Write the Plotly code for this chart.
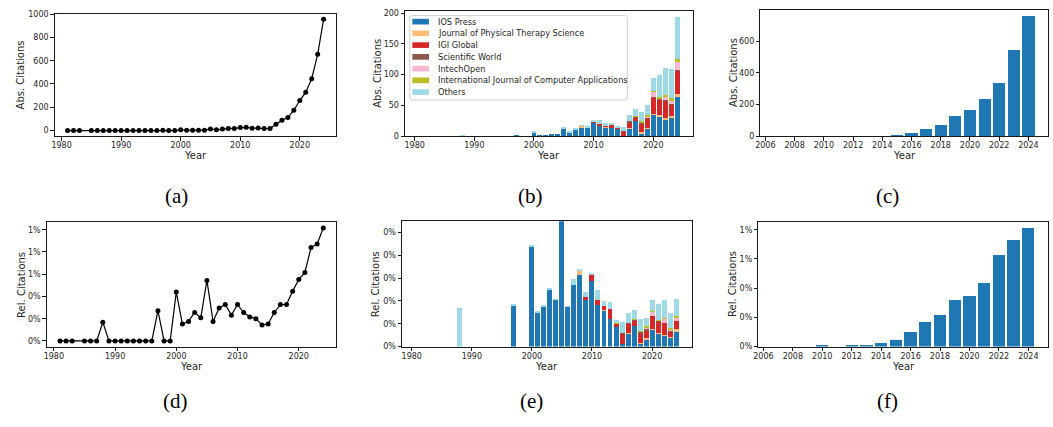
import plotly.graph_objects as go

W, H = 1053, 427

# ---------------- data ----------------
years = [1981, 1982, 1983] + list(range(1985, 2025))
abs_citations = [0, 0, 0, 0, 0, 0, 1, 0, 0, 0, 0, 0, 0, 0, 0, 2, 0, 0,
                 7, 3, 3, 4, 4, 14, 7, 13, 18, 17, 26, 28, 21, 22, 18, 17,
                 55, 89, 112, 175, 258, 330, 445, 655, 956]
rel_citations = [0, 0, 0, 0, 0, 0, 0.21, 0, 0, 0, 0, 0, 0, 0, 0, 0.34, 0, 0,
                 0.55, 0.19, 0.22, 0.32, 0.26, 0.68, 0.22, 0.37, 0.41, 0.29, 0.41,
                 0.32, 0.27, 0.25, 0.18, 0.19, 0.32, 0.41, 0.41, 0.56, 0.69, 0.77,
                 1.05, 1.09, 1.27]

pub_years = [1988, 1997] + list(range(2000, 2025))
publishers = ["IOS Press", "Journal of Physical Therapy Science", "IGI Global",
              "Scientific World", "IntechOpen",
              "International Journal of Computer Applications", "Others"]
pub_colors = ["#1f77b4", "#ffbb78", "#d62728", "#8c564b", "#f7b6d2", "#bcbd22", "#9edae5"]

ios_abs = [0, 1, 6, 2, 2, 3, 3, 13, 6, 11, 15, 14, 22, 18, 15, 14, 12, 1, 13, 25, 5, 12, 35, 32, 28, 31, 63]
jpts_abs = [0, 0, 0, 0, 0, 0, 0, 0, 0, 0, 2, 0, 0, 0, 1, 0, 0, 0, 1, 0, 1, 2, 1, 2, 2, 2, 6]
igi_abs = [0, 0, 0, 0, 0, 0, 0, 0, 0, 0, 0, 1, 2, 2, 2, 5, 2, 7, 9, 6, 15, 15, 27, 26, 28, 17, 38]
sw_abs = [0, 0, 0, 0, 0, 0, 0, 0, 0, 0, 0, 0, 0, 0, 0, 0, 0, 1, 1, 1, 2, 2, 1, 1, 1, 4, 1]
intech_abs = [0, 0, 0, 0, 0, 0, 0, 0, 0, 0, 0, 0, 0, 0, 0, 0, 0, 0, 0, 0, 0, 1, 8, 1, 4, 3, 12]
ijca_abs = [0, 0, 0, 0, 0, 0, 0, 0, 0, 0, 0, 0, 0, 0, 0, 0, 1, 0, 0, 1, 1, 3, 2, 2, 4, 5, 6]
others_abs = [1, 0, 1, 0, 0, 0, 0, 1, 1, 2, 1, 2, 1, 7, 3, 3, 2, 6, 11, 11, 16, 15, 20, 35, 43, 47, 68]

ios_rel = [0, 0.177, 0.439, 0.150, 0.173, 0.250, 0.203, 0.59, 0.173, 0.271, 0.314, 0.203,
           0.289, 0.181, 0.156, 0.121, 0.087, 0.010, 0.057, 0.091, 0.014, 0.027, 0.074,
           0.057, 0.049, 0.040, 0.066]
jpts_rel = [0, 0, 0, 0, 0, 0, 0, 0, 0, 0, 0.017, 0, 0, 0, 0.004, 0, 0, 0, 0.004, 0, 0.004,
            0.009, 0.002, 0.003, 0.004, 0.004, 0.009]
igi_rel = [0, 0, 0, 0, 0, 0, 0, 0, 0, 0, 0, 0.013, 0.026, 0.022, 0.017, 0.043, 0.013, 0.047,
           0.039, 0.022, 0.039, 0.034, 0.058, 0.049, 0.049, 0.021, 0.038]
sw_rel = [0, 0, 0, 0, 0, 0, 0, 0, 0, 0, 0, 0, 0, 0, 0, 0, 0, 0.004, 0.003, 0.004, 0.009,
          0.009, 0.002, 0.002, 0.002, 0.004, 0.001]
intech_rel = [0, 0, 0, 0, 0, 0, 0, 0, 0, 0, 0, 0, 0, 0, 0, 0, 0, 0, 0, 0, 0, 0.004, 0.015,
              0.003, 0.017, 0.004, 0.012]
ijca_rel = [0, 0, 0, 0, 0, 0, 0, 0, 0, 0, 0, 0, 0, 0, 0, 0, 0.005, 0, 0, 0.004, 0.004,
            0.009, 0.004, 0.003, 0.004, 0.009, 0.009]
others_rel = [0.168, 0.004, 0.004, 0.004, 0.004, 0.004, 0.004, 0, 0.003, 0.026, 0.004, 0.021,
              0.004, 0.047, 0.022, 0.030, 0.012, 0.047, 0.044, 0.039, 0.051, 0.034, 0.047,
              0.070, 0.081, 0.064, 0.073]

recent_years = list(range(2006, 2025))
recent_abs = [0, 0, 0, 0, 1, 0, 1, 1, 1, 2, 23, 48, 72, 129, 166, 235, 334, 545, 757]
recent_rel = [0, 0, 0, 0, 0.014, 0, 0.014, 0.014, 0.031, 0.056, 0.128, 0.211, 0.269,
              0.403, 0.436, 0.544, 0.786, 0.911, 1.011]

abs_ticks = [0, 200, 400, 600, 800, 1000]
pub_abs_ticks = [0, 50, 100, 150, 200]
recent_abs_ticks = [0, 200, 400, 600]
rel_ticks = [0, 0.25, 0.5, 0.75, 1.0, 1.25]
pub_rel_ticks = [0, 0.1, 0.2, 0.3, 0.4, 0.5]
recent_rel_ticks = [0, 0.25, 0.5, 0.75, 1.0]
decade_ticks = [1980, 1990, 2000, 2010, 2020]
recent_ticks = list(range(2006, 2025, 2))


def pct(vals):
    return [format(v, ".0f") + "%" for v in vals]


def px(x):
    return x / W


def py(y):
    return 1 - y / H


FONT = "DejaVu Sans"
TXT = "#262626"
BAR_W = 0.83

fig = go.Figure()

# (a)
fig.add_trace(go.Scatter(x=years, y=abs_citations, mode="lines+markers",
                         line=dict(color="black", width=1.2),
                         marker=dict(color="black", size=5),
                         xaxis="x", yaxis="y", showlegend=False))
# (b)
abs_series = [ios_abs, jpts_abs, igi_abs, sw_abs, intech_abs, ijca_abs, others_abs]
for name, col, vals in zip(publishers, pub_colors, abs_series):
    fig.add_trace(go.Bar(x=pub_years, y=vals, name=name, marker=dict(color=col, line=dict(width=0)),
                         width=BAR_W, xaxis="x2", yaxis="y2", showlegend=False))
# (c)
fig.add_trace(go.Bar(x=recent_years, y=recent_abs, marker=dict(color="#1f77b4", line=dict(width=0)),
                     width=BAR_W, xaxis="x3", yaxis="y3", showlegend=False))
# (d)
fig.add_trace(go.Scatter(x=years, y=rel_citations, mode="lines+markers",
                         line=dict(color="black", width=1.2),
                         marker=dict(color="black", size=5),
                         xaxis="x4", yaxis="y4", showlegend=False))
# (e)
rel_series = [ios_rel, jpts_rel, igi_rel, sw_rel, intech_rel, ijca_rel, others_rel]
for name, col, vals in zip(publishers, pub_colors, rel_series):
    fig.add_trace(go.Bar(x=pub_years, y=vals, name=name, marker=dict(color=col, line=dict(width=0)),
                         width=BAR_W, xaxis="x5", yaxis="y5", showlegend=False))
# (f)
fig.add_trace(go.Bar(x=recent_years, y=recent_rel, marker=dict(color="#1f77b4", line=dict(width=0)),
                     width=BAR_W, xaxis="x6", yaxis="y6", showlegend=False))


def axis(domain, rng, tickvals, ticktext, anchor, standoff=0):
    return dict(domain=domain, range=rng, tickvals=tickvals, ticktext=ticktext,
                anchor=anchor, showline=True, mirror=True, linecolor="#1a1a1a", linewidth=1.1,
                ticks="outside", ticklen=3.5, tickwidth=0.9, tickcolor="#1a1a1a",
                showgrid=False, zeroline=False, ticklabelstandoff=standoff,
                tickfont=dict(family=FONT, size=8, color=TXT))


# boxes in pixels: (left, right, top, bottom)
boxes = {
    "a": (50, 333, 10, 135),
    "b": (402, 691, 7, 135),
    "c": (759, 1048, 6, 135),
    "d": (42, 333, 223, 350),
    "e": (399, 690, 222, 350),
    "f": (757, 1048, 223, 350),
}


def xd(k):
    l, r, t, b = boxes[k]
    return [px(l), px(r)]


def yd(k):
    l, r, t, b = boxes[k]
    return [py(b), py(t)]


XS = -2
fig.update_layout(
    width=W, height=H, margin=dict(l=0, r=0, t=0, b=0),
    paper_bgcolor="white", plot_bgcolor="white", barmode="stack",
    xaxis=axis(xd("a"), [1978.85, 2026.15], decade_ticks, [str(v) for v in decade_ticks], "y", XS),
    yaxis=axis(yd("a"), [-47.75, 1002.75], abs_ticks, [str(v) for v in abs_ticks], "x"),
    xaxis2=axis(xd("b"), [1978.4, 2026.6], decade_ticks, [str(v) for v in decade_ticks], "y2", XS),
    yaxis2=axis(yd("b"), [0, 203.5], pub_abs_ticks, [str(v) for v in pub_abs_ticks], "x2"),
    xaxis3=axis(xd("c"), [2005.66, 2025.34], recent_ticks, [str(v) for v in recent_ticks], "y3", XS),
    yaxis3=axis(yd("c"), [0, 797], recent_abs_ticks, [str(v) for v in recent_abs_ticks], "x3"),
    xaxis4=axis(xd("d"), [1978.85, 2026.15], decade_ticks, [str(v) for v in decade_ticks], "y4", XS),
    yaxis4=axis(yd("d"), [-0.0635, 1.3335], rel_ticks, pct(rel_ticks), "x4"),
    xaxis5=axis(xd("e"), [1978.4, 2026.6], decade_ticks, [str(v) for v in decade_ticks], "y5", XS),
    yaxis5=axis(yd("e"), [0, 0.5486], pub_rel_ticks, pct(pub_rel_ticks), "x5"),
    xaxis6=axis(xd("f"), [2005.66, 2025.34], recent_ticks, [str(v) for v in recent_ticks], "y6", XS),
    yaxis6=axis(yd("f"), [0, 1.064], recent_rel_ticks, pct(recent_rel_ticks), "x6"),
)

annotations = []


def text(x, y, s, size=10, angle=0, family=FONT, xanchor="center", color=TXT):
    annotations.append(dict(x=px(x), y=py(y), xref="paper", yref="paper", text=s,
                            showarrow=False, textangle=angle, xanchor=xanchor, yanchor="middle",
                            font=dict(family=family, size=size, color=color)))


# axis titles
for k, ytitle, tx in [("a", "Abs. Citations", 16.5), ("b", "Abs. Citations", 374),
                      ("c", "Abs. Citations", 731.5), ("d", "Rel. Citations", 16.5),
                      ("e", "Rel. Citations", 373), ("f", "Rel. Citations", 731)]:
    l, r, t, b = boxes[k]
    text((l + r) / 2, b + 20, "Year")
    text(tx, (t + b) / 2, ytitle, angle=-90)

# captions
for lab, cx, cy in [("(a)", 172, 196), ("(b)", 528, 196), ("(c)", 887, 196),
                    ("(d)", 171, 406), ("(e)", 529, 406), ("(f)", 887, 406)]:
    text(cx, cy, lab, size=21, family="Liberation Serif", color="black")

# legend for (b)
shapes = []
lx0, lx1, ly0, ly1, rr = 406.7, 625.3, 11.7, 98, 2.5
path = (f"M {px(lx0 + rr)},{py(ly0)} L {px(lx1 - rr)},{py(ly0)} "
        f"Q {px(lx1)},{py(ly0)} {px(lx1)},{py(ly0 + rr)} L {px(lx1)},{py(ly1 - rr)} "
        f"Q {px(lx1)},{py(ly1)} {px(lx1 - rr)},{py(ly1)} L {px(lx0 + rr)},{py(ly1)} "
        f"Q {px(lx0)},{py(ly1)} {px(lx0)},{py(ly1 - rr)} L {px(lx0)},{py(ly0 + rr)} "
        f"Q {px(lx0)},{py(ly0)} {px(lx0 + rr)},{py(ly0)} Z")
shapes.append(dict(type="path", path=path, xref="paper", yref="paper",
                   line=dict(color="#d0d0d0", width=1), fillcolor="rgba(255,255,255,0.85)", layer="above"))
for i, (name, col) in enumerate(zip(publishers, pub_colors)):
    cy = 18 + 12 * i
    shapes.append(dict(type="rect", xref="paper", yref="paper", x0=px(409.3), x1=px(426),
                       y0=py(cy + 2.9), y1=py(cy - 2.9), fillcolor=col, line=dict(width=0), layer="above"))
    text(432.7, cy, name, size=8.2, xanchor="left")

fig.update_layout(annotations=annotations, shapes=shapes)

fig.write_html("out.html", config={"displayModeBar": False},
               post_script="document.body.style.margin='0';document.body.style.padding='0';")
